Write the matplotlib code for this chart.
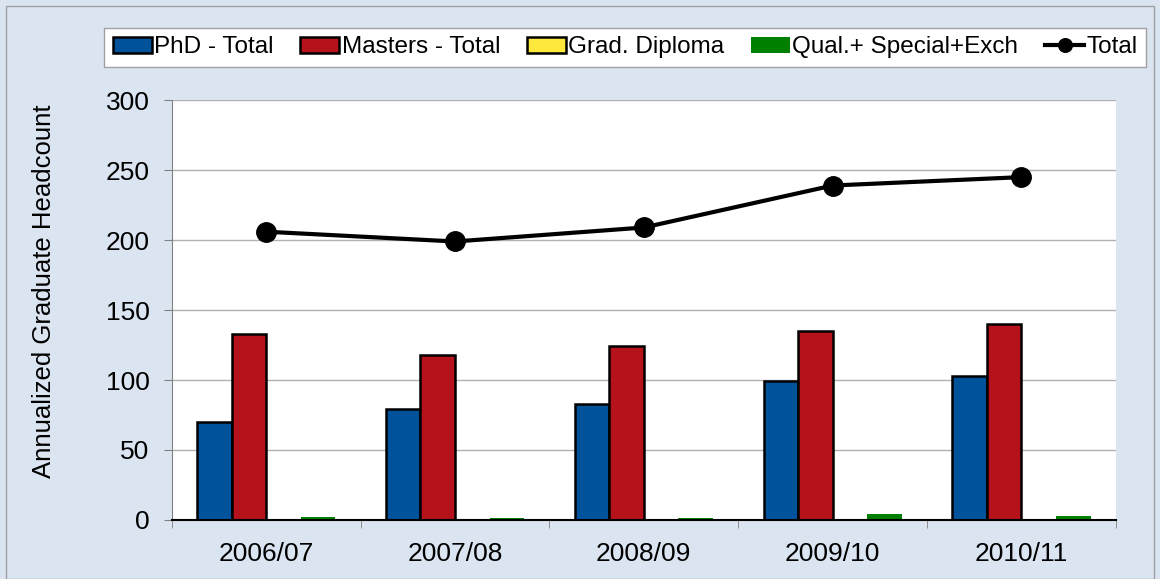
import matplotlib.pyplot as plt
import numpy as np
from matplotlib.patches import Rectangle

years = ['2006/07', '2007/08', '2008/09', '2009/10', '2010/11']
phd = [70, 79, 83, 99, 103]
masters = [133, 118, 124, 135, 140]
grad_diploma = [0, 0, 0, 0, 0]
qual_special = [2, 1.5, 1.5, 4, 2.5]
total = [206, 199, 209, 239, 245]

plt.rcParams['font.family'] = ['Liberation Sans', 'DejaVu Sans']

fig = plt.figure(figsize=(11.6, 5.79), dpi=100, facecolor='#dbe5f1')
fig.patches.append(Rectangle((0.005, 0.0), 0.99, 0.99, transform=fig.transFigure,
                             fill=False, edgecolor='#a0a0a0', lw=1))
ax = fig.add_axes([0.148, 0.102, 0.814, 0.725])
ax.set_facecolor('white')

x = np.arange(len(years))
w = 0.183
b1 = ax.bar(x - 1.5 * w, phd, w, color='#00529b', edgecolor='black', lw=1.8, label='PhD - Total')
b2 = ax.bar(x - 0.5 * w, masters, w, color='#b5121b', edgecolor='black', lw=1.8, label='Masters - Total')
b3 = ax.bar(x + 0.5 * w, grad_diploma, w, color='#ffe83c', edgecolor='black', lw=1.8, label='Grad. Diploma')
b4 = ax.bar(x + 1.5 * w, qual_special, w, color='#008000', lw=0, label='Qual.+ Special+Exch')
ln, = ax.plot(x, total, color='black', lw=3, marker='o', ms=14, label='Total')

ax.set_xlim(-0.5, len(years) - 0.5)
ax.set_ylim(0, 300)
ax.set_yticks(range(0, 301, 50))
ax.yaxis.grid(True, color='#b0b0b0', lw=1)
ax.set_axisbelow(True)
ax.set_xticks(x)
ax.set_xticklabels(years)
ax.set_xticks(np.arange(-0.5, len(years)), minor=True)
ax.tick_params(axis='x', which='major', length=0, labelsize=19, pad=16)
ax.tick_params(axis='x', which='minor', length=6, color='#808080')
ax.tick_params(axis='y', length=6, color='#808080', labelsize=19, pad=10)
for s in ['top', 'right']:
    ax.spines[s].set_visible(False)
ax.spines['left'].set_color('#808080')
ax.spines['bottom'].set_color('black')
ax.spines['bottom'].set_linewidth(1.5)
ax.set_ylabel('Annualized Graduate Headcount', fontsize=18.5, va='center')
ax.yaxis.set_label_coords(-0.135, 0.545)

leg = fig.legend(handles=[b1, b2, b3, b4, ln], ncol=5, loc='center',
                 bbox_to_anchor=(0.539, 0.918), fontsize=17.5, frameon=True, fancybox=False,
                 handlelength=1.6, handleheight=0.6, handletextpad=0.1, columnspacing=1.1,
                 borderpad=0.35, markerscale=0.7)
leg.get_frame().set_edgecolor('#a0a0a0')
leg.get_frame().set_facecolor('white')
leg.get_frame().set_alpha(1)

fig.savefig('out.png', dpi=100, facecolor=fig.get_facecolor())
